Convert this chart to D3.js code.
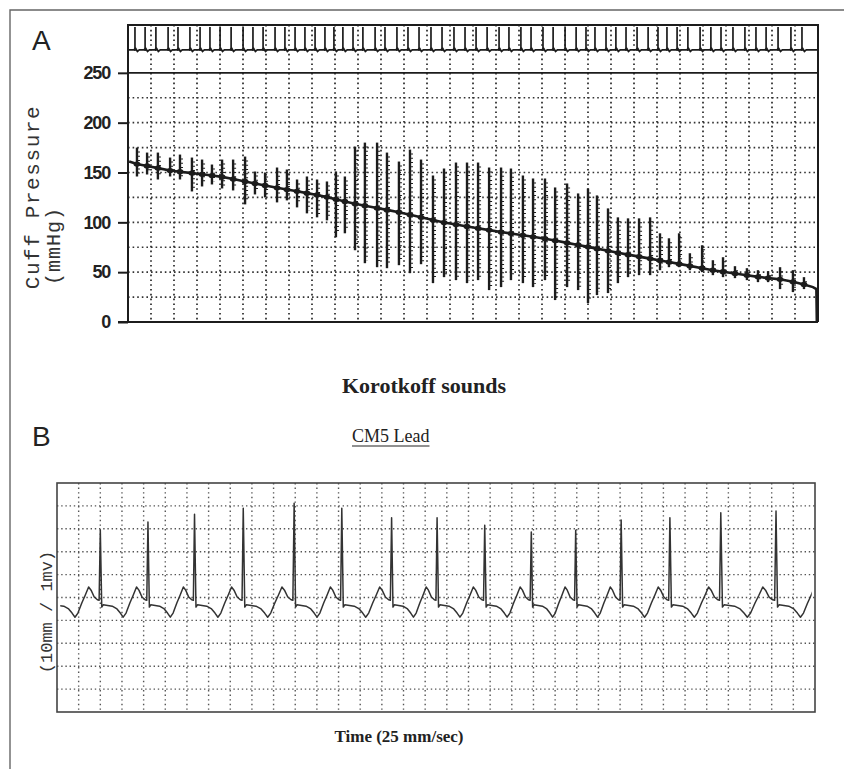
<!DOCTYPE html>
<html>
<head>
<meta charset="utf-8">
<script src="https://cdn.jsdelivr.net/npm/d3@7"></script>
<style>
body { margin: 0; background: #fff; }
svg { display: block; }
</style>
</head>
<body>
<svg id="fig" width="844" height="769"></svg>
<script>
// ---- panel A : cuff pressure with Korotkoff sounds ----
// beat time in chart divisions, pressure values in mmHg
var beatT = [0.39, 0.83, 1.30, 1.83, 2.26, 2.78, 3.22, 3.65, 4.09, 4.57,
  5.09, 5.52, 5.96, 6.48, 6.91, 7.35, 7.78, 8.22, 8.65, 9.04,
  9.43, 9.87, 10.30, 10.83, 11.26, 11.78, 12.26, 12.74, 13.26, 13.74,
  14.26, 14.74, 15.22, 15.70, 16.22, 16.65, 17.17, 17.61, 18.13, 18.57,
  19.09, 19.57, 20.00, 20.39, 20.87, 21.30, 21.74, 22.22, 22.70, 23.13,
  23.52, 23.96, 24.43, 24.96, 25.43, 25.87, 26.39, 26.91, 27.39, 27.83,
  28.35, 28.91, 29.39];
var beatP = [158.5, 156.6, 154.4, 152, 150.8, 149.4, 148.2, 147, 145.6, 143.4,
  141, 139, 137, 134.7, 132.9, 131.1, 129.3, 127.5, 125.3, 123.1,
  121, 118.6, 116.7, 114.4, 112.5, 110.2, 107.7, 105.1, 102.3, 99.8,
  97.8, 95.9, 94, 92.2, 90.3, 88.8, 87, 85.5, 83.6, 81.7,
  79.4, 77.3, 75.4, 73.6, 71.4, 69.4, 67.6, 65.6, 63.6, 61.8,
  60.2, 58.3, 56.3, 54, 52, 50.5, 48.7, 46.9, 45.3, 44.1,
  42.8, 40.4, 37.7];
var beatTop = [175, 170, 170, 165, 168, 165, 163, 158, 163, 163,
  166, 151, 150, 155, 153, 143, 146, 143, 141, 151,
  146, 176, 180, 180, 170, 161, 173, 163, 147, 154,
  160, 160, 160, 155, 155, 154, 147, 144, 144, 135,
  139, 129, 134, 127, 114, 105, 104, 104, 105, 89,
  84, 89, 69, 77, 62, 65, 56, 54, 52, 51,
  55, 52, 45];
var beatBot = [146, 148, 143, 146, 143, 131, 136, 138, 134, 132,
  118, 128, 125, 120, 122, 115, 109, 105, 102, 85,
  89, 72, 59, 55, 54, 57, 49, 58, 39, 45,
  42, 39, 42, 32, 35, 42, 39, 35, 42, 22,
  35, 32, 19, 27, 29, 39, 45, 47, 47, 52,
  55, 55, 52, 50, 47, 45, 44, 42, 40, 40,
  33, 30, 33];
var cuffHeadT = [0.05], cuffHeadP = [161];
var cuffTailT = [29.78, 29.93, 29.95], cuffTailP = [35, 33, 0];
var pressTicks = [0, 50, 100, 150, 200, 250];

// ---- panel B : CM5 lead ECG ----
// R wave times (s) and amplitudes (mV); null = beat outside the strip
var rTime = [-0.05, 0.40, 0.84, 1.27, 1.72, 2.19, 2.63, 3.09, 3.51, 3.95,
  4.38, 4.79, 5.21, 5.66, 6.13, 6.64, 7.11];
var rAmp = [null, 1.47, 1.65, 1.82, 1.95, 2.06, 1.95, 1.74, 1.74, 1.58,
  1.43, 1.47, 1.69, 1.74, 1.85, 1.89, null];
// shape between two R waves (phase of the RR interval, mV)
var tplPhase = [0.03, 0.06, 0.25, 0.35, 0.42, 0.48, 0.54, 0.62, 0.69, 0.76, 0.81, 0.875, 0.94, 0.975];
var tplLevel = [-0.21, -0.16, -0.19, -0.25, -0.34, -0.43, -0.34, -0.12, 0.05, 0.23, 0.16, 0.01, -0.05, -0.06];

var svg = d3.select("#fig");
var ink = "#1c1c1c";

// outer frame
svg.append("path").attr("d", "M10,769 V10 H844")
  .attr("fill", "none").attr("stroke", "#666").attr("stroke-width", 1.4);

// ================= panel A =================
var xA = d3.scaleLinear().domain([0, 30]).range([128, 818]);
var yA = d3.scaleLinear().domain([0, 298]).range([322, 25]);
var gA = svg.append("g");

// dotted grid
gA.selectAll(".hgrid").data(d3.range(25, 250, 25))
  .enter().append("line")
  .attr("x1", xA(0)).attr("x2", xA(30))
  .attr("y1", function(d) { return yA(d); }).attr("y2", function(d) { return yA(d); })
  .attr("stroke", "#333").attr("stroke-width", 1.6).attr("stroke-dasharray", "1.6 3");
gA.selectAll(".vgrid").data(d3.range(1, 30))
  .enter().append("line")
  .attr("x1", function(d) { return xA(d); }).attr("x2", function(d) { return xA(d); })
  .attr("y1", yA(298)).attr("y2", yA(0))
  .attr("stroke", "#333").attr("stroke-width", 1.8).attr("stroke-dasharray", "1.6 3.2");

// solid 250 line and frame
gA.append("line").attr("x1", xA(0)).attr("x2", xA(30)).attr("y1", yA(250)).attr("y2", yA(250))
  .attr("stroke", ink).attr("stroke-width", 1.6);
gA.append("path")
  .attr("d", "M" + xA(0) + "," + yA(0) + " V" + yA(298) + " H" + xA(30) + " V" + yA(0))
  .attr("fill", "none").attr("stroke", ink).attr("stroke-width", 2);
gA.append("line").attr("x1", 118).attr("x2", xA(30)).attr("y1", yA(0)).attr("y2", yA(0))
  .attr("stroke", ink).attr("stroke-width", 2);

// top marker strip
var stripTop = 296, stripBot = 273;
gA.selectAll(".strip").data(beatT).enter().append("line")
  .attr("x1", function(d) { return xA(d) - 2; }).attr("x2", function(d) { return xA(d) - 2; })
  .attr("y1", yA(stripTop)).attr("y2", yA(stripBot - 1))
  .attr("stroke", ink).attr("stroke-width", 1.7);
var blip = [[0, stripBot]];
beatT.forEach(function(t) { blip.push([t - 0.14, stripBot], [t - 0.06, stripBot + 1.5], [t + 0.02, stripBot - 1.5], [t + 0.1, stripBot]); });
blip.push([30, stripBot]);
gA.append("path").datum(blip)
  .attr("d", d3.line().x(function(d) { return xA(d[0]); }).y(function(d) { return yA(d[1]); }))
  .attr("fill", "none").attr("stroke", ink).attr("stroke-width", 1.8);

// Korotkoff oscillations
gA.selectAll(".kor").data(beatT).enter().append("line")
  .attr("x1", function(d) { return xA(d); }).attr("x2", function(d) { return xA(d); })
  .attr("y1", function(d, i) { return yA(beatTop[i]); })
  .attr("y2", function(d, i) { return yA(beatBot[i]); })
  .attr("stroke", ink).attr("stroke-width", 2.4);
gA.selectAll(".rung").data(beatT).enter().append("line")
  .attr("x1", function(d) { return xA(d) + 1.5; }).attr("x2", function(d) { return xA(d) + 1.5; })
  .attr("y1", function(d, i) { return yA(beatTop[i]) + 4; })
  .attr("y2", function(d, i) { return yA(beatBot[i]) - 3; })
  .attr("stroke", ink).attr("stroke-width", 3).attr("stroke-dasharray", "1 3.2");

// cuff pressure line
var cuff = [];
cuffHeadT.forEach(function(t, i) { cuff.push([t, cuffHeadP[i]]); });
beatT.forEach(function(t, i) { cuff.push([t, beatP[i]]); });
cuffTailT.forEach(function(t, i) { cuff.push([t, cuffTailP[i]]); });
gA.append("path").datum(cuff)
  .attr("d", d3.line().x(function(d) { return xA(d[0]); }).y(function(d) { return yA(d[1]); }))
  .attr("fill", "none").attr("stroke", ink).attr("stroke-width", 2.6);
gA.selectAll(".knot").data(beatT).enter().append("ellipse")
  .attr("cx", function(d) { return xA(d); })
  .attr("cy", function(d, i) { return yA(beatP[i]); })
  .attr("rx", 3.4).attr("ry", 2.6).attr("fill", ink);

// y axis
var axA = gA.append("g").attr("transform", "translate(" + xA(0) + ",0)")
  .call(d3.axisLeft(yA).tickValues(pressTicks).tickSize(10).tickPadding(8));
axA.select(".domain").remove();
axA.selectAll("line").attr("stroke", ink).attr("stroke-width", 2);
axA.selectAll("text").attr("font-family", "Liberation Sans, Arial, sans-serif")
  .attr("font-size", 18).attr("font-weight", "bold").attr("letter-spacing", -1.2)
  .attr("fill", "#222");

svg.append("text").attr("transform", "translate(39,197) rotate(-90)")
  .attr("text-anchor", "middle").attr("font-family", "Liberation Mono, Courier New, monospace")
  .attr("font-size", 21).attr("letter-spacing", 1.6).attr("fill", "#333").text("Cuff Pressure");
svg.append("text").attr("transform", "translate(60,246) rotate(-90)")
  .attr("text-anchor", "middle").attr("font-family", "Liberation Mono, Courier New, monospace")
  .attr("font-size", 20).attr("letter-spacing", 1).attr("fill", "#333").text("(mmHg)");

svg.append("text").attr("x", 32).attr("y", 50)
  .attr("font-family", "Liberation Sans, Arial, sans-serif").attr("font-size", 28)
  .attr("fill", "#222").text("A");
svg.append("text").attr("x", 424).attr("y", 393).attr("text-anchor", "middle")
  .attr("font-family", "Liberation Serif, Times New Roman, serif").attr("font-size", 22)
  .attr("font-weight", "bold").attr("fill", "#222").text("Korotkoff sounds");

// ================= panel B =================
var xB = d3.scaleLinear().domain([0, 7]).range([57, 815]);
var yB = d3.scaleLinear().domain([-2.5, 2.5]).range([712, 483]);
var gB = svg.append("g");

svg.append("text").attr("x", 32).attr("y", 446)
  .attr("font-family", "Liberation Sans, Arial, sans-serif").attr("font-size", 28)
  .attr("fill", "#222").text("B");
var lead = svg.append("text").attr("x", 352).attr("y", 442)
  .attr("font-family", "Liberation Serif, Times New Roman, serif").attr("font-size", 18)
  .attr("fill", "#222").text("CM5 Lead");
var lw = lead.node().getComputedTextLength();
svg.append("line").attr("x1", 352).attr("x2", 352 + lw).attr("y1", 446).attr("y2", 446)
  .attr("stroke", "#222").attr("stroke-width", 1.2);

gB.selectAll(".hgrid").data(d3.range(-2, 2.5, 0.5)).enter().append("line")
  .attr("x1", xB(0)).attr("x2", xB(7))
  .attr("y1", function(d) { return yB(d); }).attr("y2", function(d) { return yB(d); })
  .attr("stroke", "#555").attr("stroke-width", 1.4).attr("stroke-dasharray", "1.4 2.8");
gB.selectAll(".vgrid").data(d3.range(1, 35).map(function(k) { return k * 0.2; })).enter().append("line")
  .attr("x1", function(d) { return xB(d); }).attr("x2", function(d) { return xB(d); })
  .attr("y1", yB(2.5)).attr("y2", yB(-2.5))
  .attr("stroke", "#555").attr("stroke-width", 1.4).attr("stroke-dasharray", "1.4 3.2");
gB.append("rect").attr("x", xB(0)).attr("y", yB(2.5))
  .attr("width", xB(7) - xB(0)).attr("height", yB(-2.5) - yB(2.5))
  .attr("fill", "none").attr("stroke", "#444").attr("stroke-width", 1.6);

var ecg = [];
for (var i = 0; i < rTime.length - 1; i++) {
  var t0 = rTime[i], t1 = rTime[i + 1];
  if (rAmp[i] !== null) ecg.push([t0, rAmp[i]]);
  tplPhase.forEach(function(ph, j) { ecg.push([t0 + ph * (t1 - t0), tplLevel[j]]); });
}
svg.append("clipPath").attr("id", "ecgClip").append("rect")
  .attr("x", xB(0.03)).attr("y", yB(2.5)).attr("width", xB(6.97) - xB(0.03)).attr("height", yB(-2.5) - yB(2.5));
gB.append("path").datum(ecg).attr("clip-path", "url(#ecgClip)")
  .attr("d", d3.line().x(function(d) { return xB(d[0]); }).y(function(d) { return yB(d[1]); }))
  .attr("fill", "none").attr("stroke", "#333").attr("stroke-width", 1.5)
  .attr("stroke-linejoin", "round");

svg.append("text").attr("transform", "translate(52,612) rotate(-90)")
  .attr("text-anchor", "middle").attr("font-family", "Liberation Mono, Courier New, monospace")
  .attr("font-size", 17).attr("fill", "#333").text("(10mm / 1mv)");
svg.append("text").attr("x", 399).attr("y", 742).attr("text-anchor", "middle")
  .attr("font-family", "Liberation Serif, Times New Roman, serif").attr("font-size", 17)
  .attr("font-weight", "bold").attr("fill", "#222").text("Time (25 mm/sec)");
</script>
</body>
</html>
